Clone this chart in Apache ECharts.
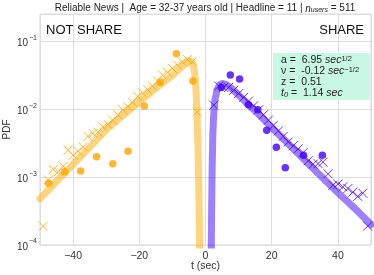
<!DOCTYPE html>
<html>
<head>
<meta charset="utf-8">
<script src="https://cdn.jsdelivr.net/npm/echarts@6/dist/echarts.min.js"></script>
<style>
html,body{margin:0;padding:0;background:#fff;}
#chart{width:374px;height:275px;}
</style>
</head>
<body>
<div id="chart"></div>
<script>
// ---- data ----
var notShareFitT = [-50, -45, -40, -35, -30, -25, -20, -15, -10, -7, -5.5, -4.5, -3.8, -3.3, -2.9, -2.6, -2.3, -2.05, -1.85, -1.7];
var notShareFitP = [4.8e-4, 8.7e-4, 1.55e-3, 2.75e-3, 5.0e-3, 8.1e-3, 1.29e-2, 2.04e-2, 3.16e-2, 4.27e-2, 5.0e-2, 5.1e-2, 4.7e-2, 3.5e-2, 2.0e-2, 1.0e-2, 3.2e-3, 7.9e-4, 2.0e-4, 5e-5];

var shareFitT = [1.7, 1.85, 2.0, 2.2, 2.5, 2.9, 3.5, 4.3, 5.2, 6.5, 8, 10, 13, 16, 20, 25, 30, 35, 40, 45, 50];
var shareFitP = [5e-5, 3.2e-4, 1.26e-3, 4.0e-3, 8.9e-3, 1.41e-2, 1.95e-2, 2.29e-2, 2.4e-2, 2.29e-2, 2.0e-2, 1.62e-2, 1.17e-2, 8.5e-3, 5.4e-3, 3.1e-3, 1.78e-3, 1.02e-3, 5.9e-4, 3.5e-4, 2.0e-4];

var notShareCrossT = [-2.5, -4, -5.5, -7, -8.5, -10, -11.5, -13, -14.5, -16, -17.5, -19, -20.5, -22, -23.5, -25, -26.5, -28, -29.5, -31, -32.5, -34, -35.5, -37, -38.5, -40, -41.5, -43, -44.5, -46, -47.5, -49];
var notShareCrossP = [9.1e-3, 5.0e-2, 5.4e-2, 5.0e-2, 4.5e-2, 4.0e-2, 3.5e-2, 3.2e-2, 2.6e-2, 2.2e-2, 1.95e-2, 1.74e-2, 1.55e-2, 1.26e-2, 1.1e-2, 9.8e-3, 8.3e-3, 6.9e-3, 6.0e-3, 5.5e-3, 4.6e-3, 4.4e-3, 4.0e-3, 2.8e-3, 2.4e-3, 2.1e-3, 2.5e-3, 1.45e-3, 1.2e-3, 1.3e-3, 9.1e-4, 1.9e-4];

var notShareDotT = [-47.4, -42.5, -37.7, -32.9, -28.0, -23.4, -18.5, -13.7, -8.8, -3.8];
var notShareDotP = [8.1e-4, 1.2e-3, 1.23e-3, 2.0e-3, 1.58e-3, 2.4e-3, 1.12e-2, 2.5e-2, 6.6e-2, 2.6e-2];

var shareCrossT = [2.5, 4, 5.5, 7, 8.5, 10, 11.5, 13, 14.5, 16, 17.5, 19, 20.5, 22, 23.5, 25, 26.5, 28, 29.5, 31, 32.5, 34, 35.5, 37, 38.5, 40, 41.5, 43, 44.5, 46, 47.5, 49];
var shareCrossP = [1.15e-2, 2.2e-2, 2.1e-2, 2.1e-2, 1.9e-2, 1.7e-2, 1.5e-2, 1.32e-2, 1.12e-2, 9.8e-3, 8.3e-3, 6.9e-3, 5.8e-3, 4.8e-3, 4.0e-3, 3.3e-3, 2.9e-3, 2.6e-3, 2.3e-3, 1.74e-3, 1.55e-3, 1.58e-3, 1.66e-3, 1.12e-3, 7.6e-4, 7.9e-4, 7.2e-4, 6.8e-4, 6.0e-4, 5.2e-4, 5.8e-4, 1.9e-4];

var shareDotT = [4.8, 7.5, 10.3, 13.0, 15.8, 18.5, 21.4, 24.1, 29.6, 35.3];
var shareDotP = [2.1e-2, 3.2e-2, 2.8e-2, 1.17e-2, 9.8e-3, 4.9e-3, 2.75e-3, 1.38e-3, 2.1e-3, 2.1e-3];

var xTicks = [-40, -20, 0, 20, 40];
var paramLines = [
  ['a', '6.95', 'sec', '1/2'],
  ['\u03bd', '-0.12', 'sec', '\u22121/2'],
  ['z', '0.51', '', ''],
  ['t0', '1.14', 'sec', '']
];

function pairs(t, p) { return t.map(function (v, i) { return [v, p[i]]; }); }

var FONT = 'Liberation Sans, Arial, sans-serif';
var ORANGE = '#ffa500';
var PURPLE = '#4400ff';
var CROSS = 'path://M0,0L10,10M10,0L0,10';

var chart = echarts.init(document.getElementById('chart'), null, {renderer: 'canvas'});

function paramRich(line) {
  var name = line[0] === 't0' ? '{it|t}{sub|0}' : (line[0] === 'z' ? '{n|z}' : '{n|' + line[0] + '}');
  var s = name + '{n| =  ' + line[1] + ' }';
  if (line[2]) s += '{it|' + line[2] + '}';
  if (line[3]) s += '{sup|' + line[3] + '}';
  return s;
}

var richParam = {
  n: {fontSize: 10.5, fontFamily: FONT, color: '#222', lineHeight: 11, verticalAlign: 'bottom'},
  it: {fontSize: 10.5, fontFamily: FONT, fontStyle: 'italic', color: '#222', lineHeight: 11, verticalAlign: 'bottom'},
  sup: {fontSize: 7.5, fontFamily: FONT, color: '#222', lineHeight: 11, verticalAlign: 'top', padding: [0, 0, 4, 0]},
  sub: {fontSize: 7.5, fontFamily: FONT, fontStyle: 'italic', color: '#222', lineHeight: 11, verticalAlign: 'bottom', padding: [3, 0, 0, 0]}
};

var option = {
  backgroundColor: '#fff',
  animation: false,
  grid: {left: 40, right: 3, top: 14, bottom: 30, show: true, borderColor: '#d9d9d9', borderWidth: 1,
         containLabel: false, outerBoundsMode: 'none'},
  xAxis: {
    type: 'value', min: -50, max: 50, splitNumber: 5,
    axisLine: {show: false}, axisTick: {show: false},
    splitLine: {lineStyle: {color: '#dedede', width: 1}},
    axisLabel: {
      showMinLabel: false, showMaxLabel: false, margin: 6,
      color: '#333', fontSize: 10.5, fontFamily: FONT,
      formatter: function (v) { return xTicks.indexOf(v) >= 0 ? String(v).replace('-', '\u2212') : ''; }
    },
    name: 't (sec)', nameLocation: 'middle', nameGap: 16, nameMoveOverlap: false,
    nameTextStyle: {color: '#333', fontSize: 10.5, fontFamily: FONT}
  },
  yAxis: {
    type: 'log', logBase: 10, min: 1e-4, max: 0.2535,
    axisLine: {show: false}, axisTick: {show: false},
    splitLine: {lineStyle: {color: '#dedede', width: 1}},
    axisLabel: {
      showMaxLabel: false, margin: 3, color: '#333', fontFamily: FONT,
      formatter: function (v) {
        var e = Math.round(Math.log10(v));
        return '{b|10}{s|\u2212' + Math.abs(e) + '}';
      },
      rich: {
        b: {fontSize: 10, fontFamily: FONT, color: '#333', lineHeight: 14, verticalAlign: 'bottom', padding: [4, 0, 0, 0]},
        s: {fontSize: 7, fontFamily: FONT, color: '#333', lineHeight: 14, verticalAlign: 'top', padding: [0, 0, 0, 1]}
      }
    },
    name: 'PDF', nameLocation: 'middle', nameGap: 28, nameRotate: 90, nameMoveOverlap: false,
    nameTextStyle: {color: '#333', fontSize: 10, fontFamily: FONT}
  },
  series: [
    {type: 'line', data: pairs(notShareFitT, notShareFitP), showSymbol: false, symbol: 'none', clip: true,
     lineStyle: {color: 'rgba(255,170,0,0.5)', width: 7, cap: 'round', join: 'round'}, z: 1},
    {type: 'line', data: pairs(shareFitT, shareFitP), showSymbol: false, symbol: 'none', clip: true,
     lineStyle: {color: 'rgba(60,0,255,0.5)', width: 7, cap: 'round', join: 'round'}, z: 1},
    {type: 'scatter', data: pairs(notShareCrossT, notShareCrossP), symbol: CROSS, symbolSize: 9,
     itemStyle: {color: 'transparent', borderColor: ORANGE, borderWidth: 1}, z: 3},
    {type: 'scatter', data: pairs(shareCrossT, shareCrossP), symbol: CROSS, symbolSize: 9,
     itemStyle: {color: 'transparent', borderColor: PURPLE, borderWidth: 1}, z: 3},
    {type: 'scatter', data: pairs(notShareDotT, notShareDotP), symbol: 'circle', symbolSize: 7.5,
     itemStyle: {color: ORANGE}, z: 4},
    {type: 'scatter', data: pairs(shareDotT, shareDotP), symbol: 'circle', symbolSize: 7.5,
     itemStyle: {color: PURPLE}, z: 4}
  ],
  graphic: [
    {type: 'text', x: 205, y: 2, z: 10,
     style: {
       text: 'Reliable News |  Age = 32-37 years old | Headline = 11 | {it|n}{sub|users} = 511',
       fill: '#222', fontSize: 10, fontFamily: FONT, align: 'center',
       rich: {
         it: {fontSize: 10, fontStyle: 'italic', fontFamily: FONT, color: '#222', lineHeight: 12, verticalAlign: 'bottom'},
         sub: {fontSize: 7, fontStyle: 'italic', fontFamily: FONT, color: '#222', lineHeight: 12, verticalAlign: 'bottom', padding: [3, 0, 0, 0]}
       }
     }},
    {type: 'text', x: 46, y: 24, z: 10,
     style: {text: 'NOT SHARE', fill: '#111', fontSize: 13, fontFamily: FONT}},
    {type: 'text', x: 364, y: 24, z: 10,
     style: {text: 'SHARE', fill: '#111', fontSize: 13, fontFamily: FONT, align: 'right'}},
    {type: 'rect', shape: {x: 273, y: 53, width: 97, height: 47}, z: 9,
     style: {fill: '#c8f7e3', stroke: null}},
    {type: 'text', x: 281, y: 55, z: 10,
     style: {text: paramLines.map(paramRich).join('\n'), rich: richParam, fill: '#222', fontFamily: FONT, fontSize: 10.5}}
  ]
};
chart.setOption(option);
</script>
</body>
</html>
